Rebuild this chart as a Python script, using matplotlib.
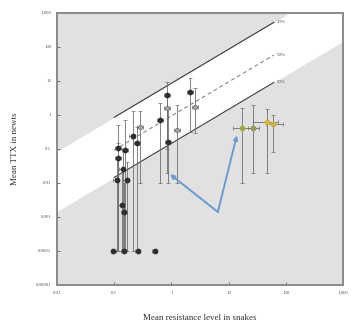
import numpy as np
import matplotlib.pyplot as plt

plt.rcdefaults()

# dark points (x, y, y error low, y error high)
dark_x = [0.117, 0.155, 0.117, 0.21, 0.25, 0.14, 0.11, 0.165, 0.135, 0.15,
          0.63, 0.84, 2.1, 0.87]
dark_y = [0.107, 0.094, 0.055, 0.24, 0.15, 0.026, 0.012, 0.012, 0.0022, 0.0014,
          0.71, 3.9, 4.7, 0.16]
dark_lo = [0.0001, 0.0001, 0.0001, 0.0001, 0.0001, 0.0001, 0.0001, 0.0001, 0.0001, 0.0001,
           0.01, 0.1, 0.32, 0.01]
dark_hi = [0.5, 0.7, 0.15, 1.3, 0.45, 0.1, 0.05, 0.04, 0.02, 0.01,
           2.2, 9.4, 12, 1.5]

# undetected populations sitting on the floor of the axis
zero_x = [0.096, 0.148, 0.26, 0.51]
zero_y = [0.0001, 0.0001, 0.0001, 0.0001]

# light points
light_x = [0.28, 0.84, 2.6, 1.24]
light_y = [0.44, 1.6, 1.7, 0.36]
light_lo = [0.01, 0.02, 0.3, 0.01]
light_hi = [1.3, 4.0, 6.0, 2.0]

# yellow points (x error low/high too)
yel_x = [17, 27, 47, 60]
yel_y = [0.41, 0.41, 0.62, 0.54]
yel_lo = [0.01, 0.02, 0.02, 0.08]
yel_hi = [1.6, 2.0, 1.5, 1.0]
yel_xlo = [12, 22, 27, 45]
yel_xhi = [25, 34, 72, 90]
yel_col = ["#a3a83c", "#8f9c5a", "#d6b43a", "#d0ad45"]

# performance isoclines  y = k * x
iso_names = ["10%", "50%", "90%"]
iso_k = [8.5, 0.93, 0.145]
iso_x = [0.1, 62]

# blue arrows: vertex and two tips
arrow_vertex = (6.5, 0.0014)
arrow_tips = [(0.95, 0.018), (14, 0.25)]

x_ticks = [0.01, 0.1, 1, 10, 100, 1000]
x_labels = ["0.01", "0.1", "1", "10", "100", "1,000"]
y_ticks = [1e-5, 1e-4, 1e-3, 1e-2, 0.1, 1, 10, 100, 1000]
y_labels = ["0.00001", "0.0001", "0.001", "0.01", "0.1", "1", "10", "100", "1,000"]

fig = plt.figure(figsize=(3.52, 3.22), dpi=100)
ax = fig.add_axes([0.162, 0.115, 0.812, 0.845])
ax.set_xscale("log")
ax.set_yscale("log")
ax.set_xlim(0.01, 1000)
ax.set_ylim(1e-5, 1000)
ax.set_facecolor("#e1e1e1")

# white matching zone between the 10% and 90% isoclines
xs = np.array([0.01, 1000])
ax.fill_between(xs, iso_k[2] * xs, iso_k[0] * xs, color="white", lw=0, zorder=0)

ix = np.array(iso_x)
for name, k in zip(iso_names, iso_k):
    if name == "50%":
        ax.plot(ix, k * ix, ls="--", dashes=(4, 3), color="#777777", lw=0.7, zorder=1)
    else:
        ax.plot(ix, k * ix, color="#3a3a3a", lw=0.8, zorder=1)
    ax.text(ix[1] * 1.12, k * ix[1], name, fontsize=3.5, color="#555555",
            va="center", ha="left", family="Liberation Serif")

eb = dict(ecolor="#6e6e6e", elinewidth=0.6, capsize=1.2, capthick=0.5, ls="none", zorder=2)

dy = np.array(dark_y)
ax.errorbar(dark_x, dy, yerr=[dy - np.array(dark_lo), np.array(dark_hi) - dy],
            xerr=[np.array(dark_x) * 0.12, np.array(dark_x) * 0.12],
            marker="o", ms=3.1, mfc="#2e2e2e", mec="#2e2e2e", **eb)
ax.errorbar(zero_x, zero_y, xerr=[np.array(zero_x) * 0.1, np.array(zero_x) * 0.1],
            marker="o", ms=3.1, mfc="#2e2e2e", mec="#2e2e2e", **eb)

ly = np.array(light_y)
ax.errorbar(light_x, ly, yerr=[ly - np.array(light_lo), np.array(light_hi) - ly],
            xerr=[np.array(light_x) * 0.12, np.array(light_x) * 0.12],
            marker="o", ms=3.1, mfc="#a8a8a8", mec="#6a6a6a", mew=0.5, **eb)

for i in range(len(yel_x)):
    ax.errorbar([yel_x[i]], [yel_y[i]],
                yerr=[[yel_y[i] - yel_lo[i]], [yel_hi[i] - yel_y[i]]],
                xerr=[[yel_x[i] - yel_xlo[i]], [yel_xhi[i] - yel_x[i]]],
                marker="o", ms=3.1, mfc=yel_col[i], mec=yel_col[i], **eb)

for tip in arrow_tips:
    ax.annotate("", xy=tip, xytext=arrow_vertex,
                arrowprops=dict(arrowstyle="-|>", color="#6a9bd0", lw=1.4,
                                mutation_scale=6, shrinkA=0, shrinkB=0),
                zorder=4)

ax.set_xticks(x_ticks)
ax.set_xticklabels(x_labels)
ax.set_yticks(y_ticks)
ax.set_yticklabels(y_labels)
ax.minorticks_off()
ax.tick_params(direction="in", length=2, width=0.6, color="#555555",
               labelsize=3.5, labelcolor="#555555", pad=4)
for lab in ax.get_xticklabels() + ax.get_yticklabels():
    lab.set_family("Liberation Serif")
for s in ax.spines.values():
    s.set_color("#8a8a8a")
    s.set_linewidth(1.4)

ax.set_xlabel("Mean resistance level in snakes", family="Liberation Serif",
              fontsize=6.5, color="#333333", labelpad=14)
ax.set_ylabel("Mean TTX in newts", family="Liberation Serif",
              fontsize=6.5, color="#333333", labelpad=12)

fig.savefig("out.png", dpi=100)
